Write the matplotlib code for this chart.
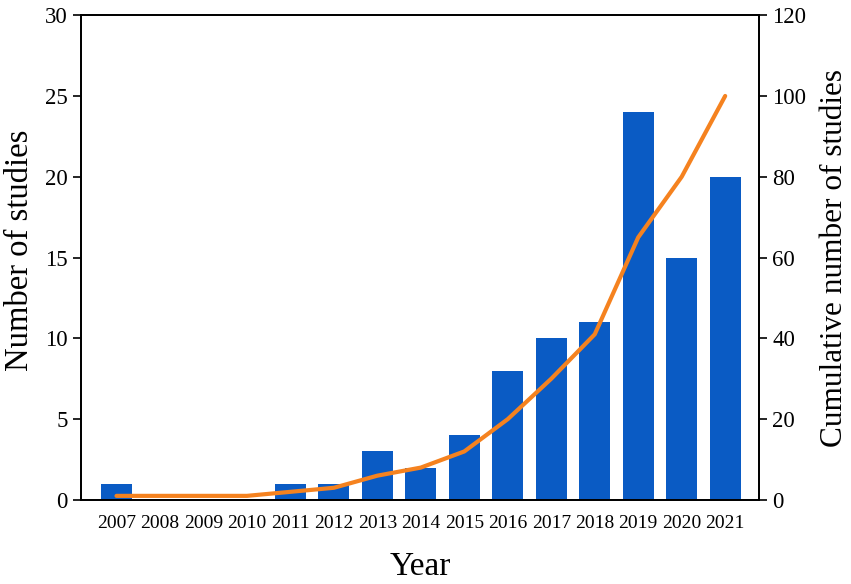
import matplotlib
matplotlib.use("Agg")
import matplotlib.pyplot as plt
import numpy as np

years = ["2007", "2008", "2009", "2010", "2011", "2012", "2013", "2014",
         "2015", "2016", "2017", "2018", "2019", "2020", "2021"]
studies = [1, 0, 0, 0, 1, 1, 3, 2, 4, 8, 10, 11, 24, 15, 20]
cumulative = [1, 1, 1, 1, 2, 3, 6, 8, 12, 20, 30, 41, 65, 80, 100]

plt.rcParams['font.family'] = ['Liberation Serif', 'DejaVu Serif']

fig = plt.figure(figsize=(8.51, 5.84), dpi=100)
ax = fig.add_axes([0.095, 0.144, 0.797, 0.830])
x = np.arange(len(years))
ax.bar(x, studies, width=0.71, color='#0a5bc4', zorder=2)
ax.set_xlim(-0.82, 14.78)
ax.set_ylim(0, 30)
ax.set_yticks([0, 5, 10, 15, 20, 25, 30])
ax.set_xticks(x)
ax.set_xticklabels(years, fontsize=14)
ax.tick_params(axis='x', length=0, pad=11)
ax.tick_params(axis='y', direction='out', length=6, width=1.2, labelsize=16.5)
ax.set_xlabel('Year', fontsize=24, labelpad=14)
ax.set_ylabel('Number of studies', fontsize=23.5)
ax.yaxis.set_label_coords(-0.067, 0.515)
for s in ax.spines.values():
    s.set_linewidth(1.3)

ax2 = ax.twinx()
ax2.plot(x, cumulative, color='#f5821f', linewidth=3, zorder=3, solid_capstyle='round')
ax2.set_ylim(0, 120)
ax2.set_yticks([0, 20, 40, 60, 80, 100, 120])
ax2.tick_params(axis='y', direction='out', length=6, width=1.2, labelsize=16.5)
ax2.set_ylabel('Cumulative number of studies', fontsize=22.5, labelpad=10)
for s in ax2.spines.values():
    s.set_linewidth(1.3)

fig.savefig('out.png', dpi=100)
